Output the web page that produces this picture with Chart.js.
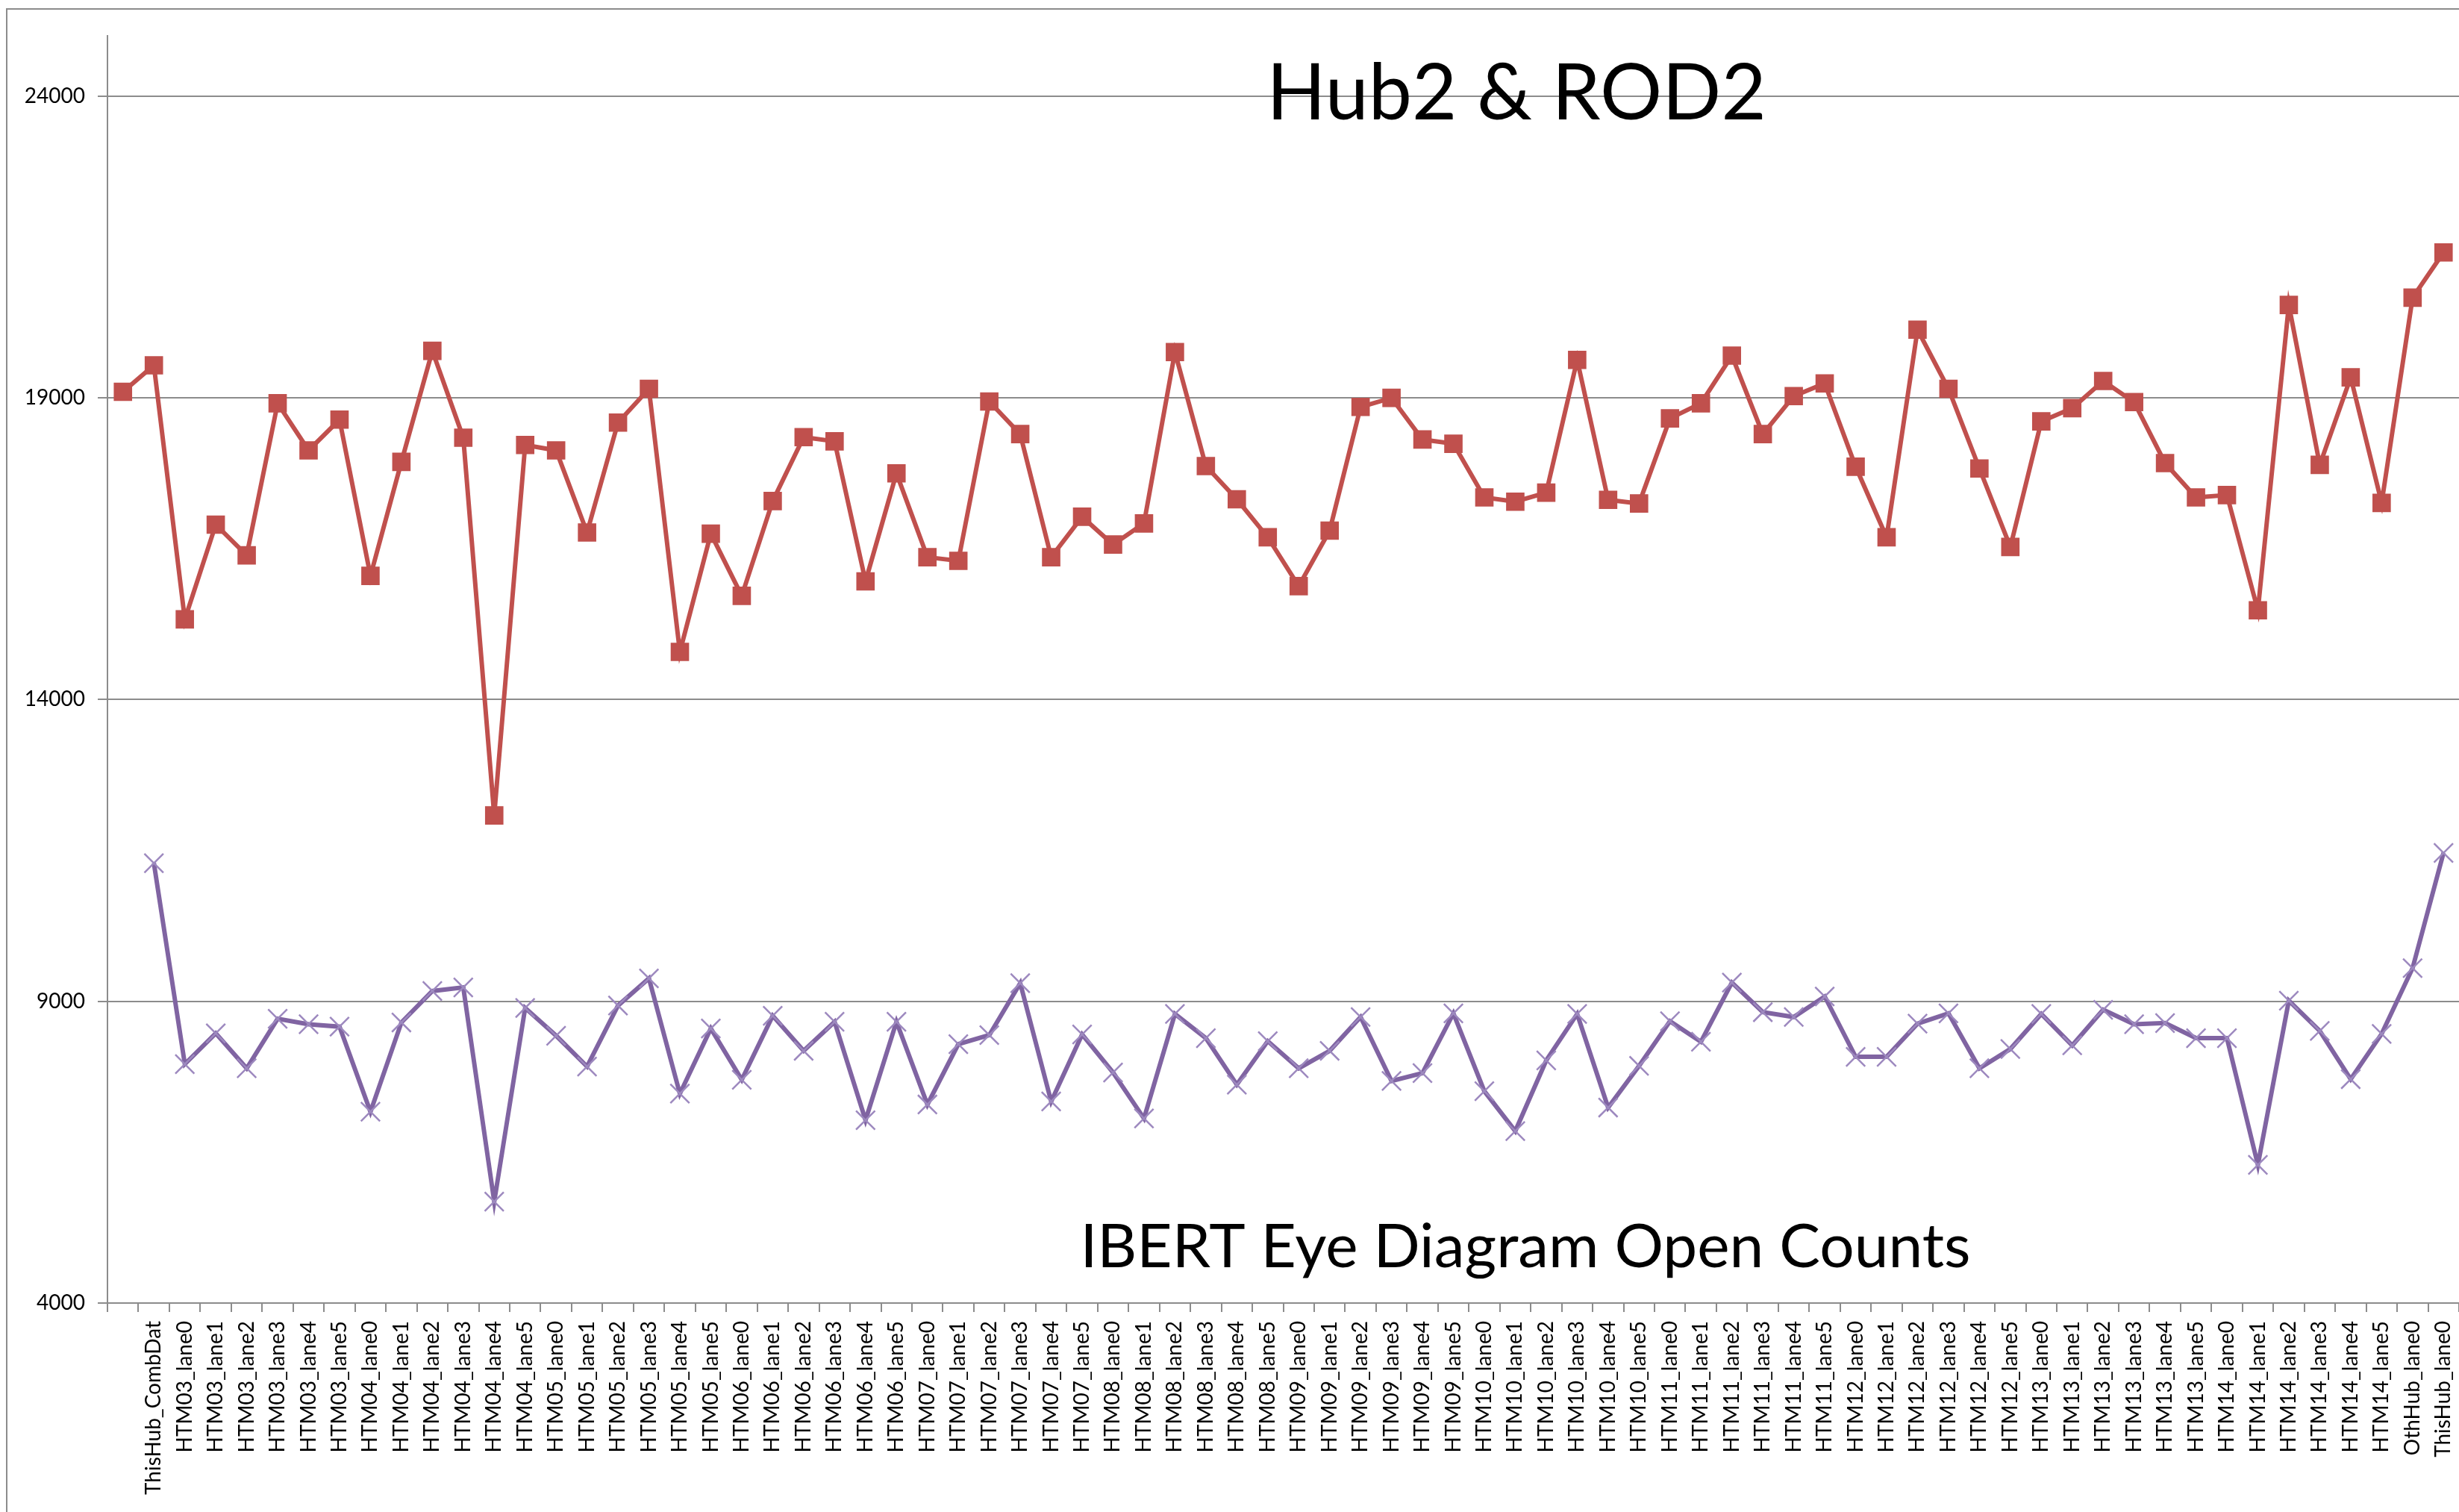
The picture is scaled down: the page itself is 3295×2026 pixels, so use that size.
<!DOCTYPE html>
<html>
<head>
<meta charset="utf-8">
<script src="https://cdn.jsdelivr.net/npm/chart.js@4.4.0/dist/chart.umd.min.js"></script>
<style>
  html, body { margin: 0; padding: 0; background: #fff; }
  #grafica { width: 3295px; height: 2026px; }
  canvas { display: block; }
</style>
</head>
<body>
<div id="grafica"></div>
<script>
// categories (first slot has no name in the sheet)
const lanes = [
  "",
  "ThisHub_CombDat",
  "HTM03_lane0", "HTM03_lane1", "HTM03_lane2", "HTM03_lane3", "HTM03_lane4", "HTM03_lane5",
  "HTM04_lane0", "HTM04_lane1", "HTM04_lane2", "HTM04_lane3", "HTM04_lane4", "HTM04_lane5",
  "HTM05_lane0", "HTM05_lane1", "HTM05_lane2", "HTM05_lane3", "HTM05_lane4", "HTM05_lane5",
  "HTM06_lane0", "HTM06_lane1", "HTM06_lane2", "HTM06_lane3", "HTM06_lane4", "HTM06_lane5",
  "HTM07_lane0", "HTM07_lane1", "HTM07_lane2", "HTM07_lane3", "HTM07_lane4", "HTM07_lane5",
  "HTM08_lane0", "HTM08_lane1", "HTM08_lane2", "HTM08_lane3", "HTM08_lane4", "HTM08_lane5",
  "HTM09_lane0", "HTM09_lane1", "HTM09_lane2", "HTM09_lane3", "HTM09_lane4", "HTM09_lane5",
  "HTM10_lane0", "HTM10_lane1", "HTM10_lane2", "HTM10_lane3", "HTM10_lane4", "HTM10_lane5",
  "HTM11_lane0", "HTM11_lane1", "HTM11_lane2", "HTM11_lane3", "HTM11_lane4", "HTM11_lane5",
  "HTM12_lane0", "HTM12_lane1", "HTM12_lane2", "HTM12_lane3", "HTM12_lane4", "HTM12_lane5",
  "HTM13_lane0", "HTM13_lane1", "HTM13_lane2", "HTM13_lane3", "HTM13_lane4", "HTM13_lane5",
  "HTM14_lane0", "HTM14_lane1", "HTM14_lane2", "HTM14_lane3", "HTM14_lane4", "HTM14_lane5",
  "OthHub_lane0",
  "ThisHub_lane0"
];

// Hub2 & ROD2 (red, squares)
const hubRod = [
  19100, 19540,
  15330, 16900, 16390, 18910, 18130, 18640,
  16050, 17940, 19780, 18340, 12080, 18220,
  18130, 16770, 18590, 19150, 14790, 16750,
  15720, 17290, 18350, 18280, 15960, 17750,
  16360, 16300, 18940, 18400, 16360, 17030,
  16570, 16920, 19760, 17870, 17320, 16690,
  15880, 16800, 18850, 19000, 18310, 18240,
  17350, 17280, 17430, 19630, 17310, 17250,
  18660, 18910, 19700, 18400, 19030, 19240,
  17860, 16690, 20130, 19150, 17830, 16530,
  18610, 18830, 19280, 18930, 17920, 17350,
  17390, 15480, 20540, 17890, 19340, 17260,
  20660,
  21410
];

// IBERT eye diagram open counts (purple, crosses)
const ibert = [
  null, 11290,
  7960, 8470, 7890, 8710, 8620, 8580,
  7170, 8650, 9170, 9230, 5680, 8890,
  8430, 7920, 8930, 9380, 7470, 8550,
  7700, 8760, 8180, 8660, 7030, 8660,
  7290, 8290, 8440, 9300, 7340, 8450,
  7820, 7060, 8790, 8390, 7620, 8340,
  7890, 8180, 8740, 7680, 7810, 8800,
  7510, 6850, 8020, 8790, 7240, 7930,
  8670, 8330, 9310, 8820, 8740, 9080,
  8080, 8080, 8630, 8800, 7890, 8210,
  8790, 8270, 8860, 8620, 8640, 8390,
  8390, 6290, 9010, 8510, 7710, 8460,
  9550,
  11460
];

const yTicks = [4000, 9000, 14000, 19000, 24000];
const yMin = 4000;
const yMax = 25000;

const chartTitle = "Hub2 & ROD2";
const chartNote = "IBERT Eye Diagram Open Counts";

const W = 3295, H = 2026;
const gridGray = "#8c8c8c";

// outer frame + the two free text boxes
const overlay = {
  id: "overlay",
  beforeDraw(chart) {
    const c = chart.ctx;
    c.save();
    c.strokeStyle = gridGray;
    c.lineWidth = 2;
    c.beginPath();
    c.moveTo(9, H);
    c.lineTo(9, 12);
    c.lineTo(W, 12);
    c.stroke();
    c.restore();
  },
  afterDraw(chart) {
    const c = chart.ctx;
    c.save();
    c.fillStyle = "#000";
    c.textAlign = "center";
    c.textBaseline = "alphabetic";
    c.font = "104px Lato";
    c.fillText(chartTitle, 2032, 160);
    c.font = "82px Lato";
    c.fillText(chartNote, 2044, 1698);
    c.restore();
  }
};

function mountChart() {
  const parent = document.getElementById("grafica");
  parent.innerHTML = null;
  const ctx = document.createElement("canvas");
  ctx.setAttribute("id", "myChart");
  ctx.width = W;
  ctx.height = H;
  parent.appendChild(ctx);

  Chart.defaults.font.family = "Lato";

  new Chart(ctx, {
    type: "line",
    data: {
      labels: lanes,
      datasets: [
        {
          label: chartTitle,
          data: hubRod,
          borderColor: "#C0504D",
          backgroundColor: "#C0504D",
          borderWidth: 6,
          tension: 0,
          pointStyle: "rect",
          pointRadius: 16,
          pointBorderWidth: 2,
          pointBackgroundColor: "#C0504D",
          pointBorderColor: "#C0504D",
        },
        {
          label: chartNote,
          data: ibert,
          borderColor: "#8064A2",
          backgroundColor: "#8064A2",
          borderWidth: 6,
          tension: 0,
          pointStyle: "crossRot",
          pointRadius: 18,
          pointBorderWidth: 2.5,
          pointBorderColor: "#9d89bf",
        },
      ],
    },
    options: {
      responsive: false,
      animation: false,
      devicePixelRatio: 1,
      layout: { autoPadding: false, padding: { top: 48, left: 0, right: 0, bottom: 0 } },
      plugins: {
        legend: { display: false },
        tooltip: { enabled: false },
      },
      scales: {
        x: {
          type: "category",
          offset: true,
          grid: {
            drawOnChartArea: false,
            drawTicks: true,
            tickLength: 12,
            offset: true,
            color: gridGray,
            lineWidth: 2,
          },
          border: { color: gridGray, width: 2 },
          ticks: {
            autoSkip: false,
            maxRotation: 90,
            minRotation: 90,
            padding: 12,
            color: "#000",
            font: { size: 28 },
          },
          afterFit: (s) => {
            s.height = 280;
            s.paddingLeft = 0;
            s.paddingRight = 0;
          },
        },
        y: {
          min: yMin,
          max: yMax,
          afterBuildTicks: (s) => { s.ticks = yTicks.map((v) => ({ value: v })); },
          afterFit: (s) => { s.width = 144; },
          grid: { color: gridGray, lineWidth: 2, tickLength: 13 },
          border: { color: gridGray, width: 2 },
          ticks: {
            padding: 17,
            color: "#000",
            font: { size: 28 },
            callback: (v) => String(v),
          },
        },
      },
    },
    plugins: [overlay],
  });
}

mountChart();
</script>
</body>
</html>
